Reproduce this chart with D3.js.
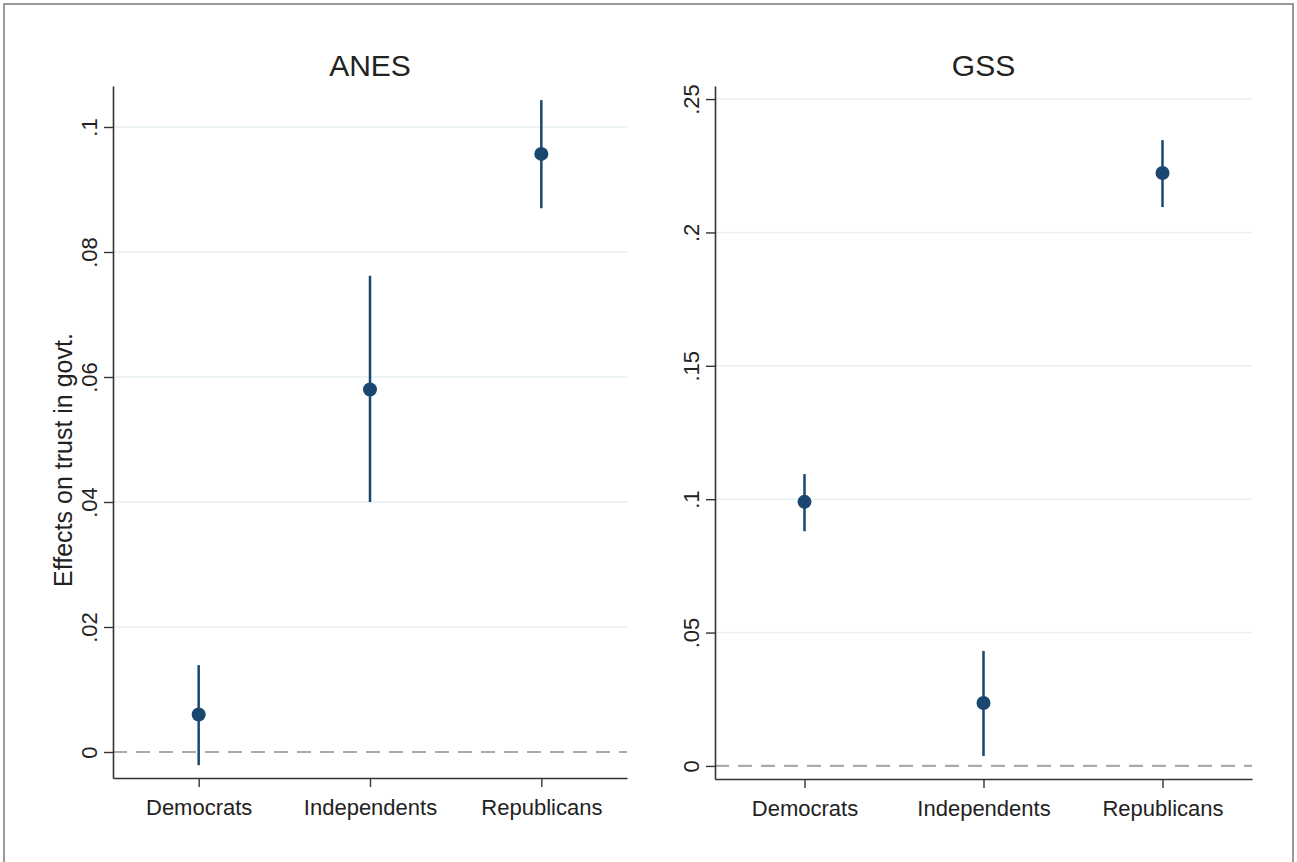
<!DOCTYPE html>
<html>
<head>
<meta charset="utf-8">
<script src="https://cdn.jsdelivr.net/npm/d3@7"></script>
<style>
  body { margin: 0; background: #fff; }
  text { font-family: "Liberation Sans", Arial, sans-serif; fill: #222; }
</style>
</head>
<body>
<div id="chart"></div>
<script>
// categories + estimates
var categories = ["Democrats", "Independents", "Republicans"];

var anesEst = [0.006, 0.058, 0.0957];
var anesLo  = [-0.0021, 0.040, 0.087];
var anesHi  = [0.0139, 0.0762, 0.1043];

var gssEst = [0.099, 0.0236, 0.2223];
var gssLo  = [0.088, 0.0037, 0.2095];
var gssHi  = [0.1094, 0.0431, 0.2346];

var anesTicks = [0, 0.02, 0.04, 0.06, 0.08, 0.1];
var anesTickLabels = ["0", ".02", ".04", ".06", ".08", ".1"];
var gssTicks = [0, 0.05, 0.1, 0.15, 0.2, 0.25];
var gssTickLabels = ["0", ".05", ".1", ".15", ".2", ".25"];

var svgWidth = 1297;
var svgHeight = 862;

var svg = d3.select("#chart")
  .append("svg")
  .attr("width", svgWidth)
  .attr("height", svgHeight);

// outer frame
svg.append("rect")
  .attr("x", 4).attr("y", 4)
  .attr("width", 1289).attr("height", 880)
  .attr("fill", "none")
  .attr("stroke", "#9a9a9a")
  .attr("stroke-width", 2);

var navy = "#1a476f";

function drawPanel(p) {
  var x = d3.scalePoint()
    .domain(categories)
    .range([p.left, p.right])
    .padding(0.5);

  var y = d3.scaleLinear()
    .domain(p.yDomain)
    .range([p.bottom, p.top]);

  var g = svg.append("g");

  // grid lines (not at zero)
  g.selectAll("line.grid")
    .data(p.ticks.filter(function (d) { return d !== 0; }))
    .enter()
    .append("line")
    .attr("class", "grid")
    .attr("x1", p.left).attr("x2", p.right)
    .attr("y1", function (d) { return y(d); })
    .attr("y2", function (d) { return y(d); })
    .attr("stroke", "#e6eff1")
    .attr("stroke-width", 1.5);

  // dashed zero line
  g.append("line")
    .attr("x1", p.left).attr("x2", p.right)
    .attr("y1", y(0)).attr("y2", y(0))
    .attr("stroke", "#aaaaaa")
    .attr("stroke-width", 2.2)
    .attr("stroke-dasharray", "14,9");

  // y axis
  var leftAxis = d3.axisLeft(y)
    .tickValues(p.ticks)
    .tickFormat(function (d, i) { return p.tickLabels[i]; })
    .tickSize(9)
    .tickSizeOuter(0);

  var ya = g.append("g")
    .attr("transform", "translate(" + p.left + ",0)")
    .call(leftAxis);
  ya.select(".domain").attr("stroke", "#333").attr("stroke-width", 1.6);
  ya.selectAll(".tick line").attr("stroke", "#333").attr("stroke-width", 1.4);
  ya.selectAll(".tick text")
    .attr("transform", "rotate(-90)")
    .attr("x", 0)
    .attr("y", -16)
    .attr("dy", 0)
    .attr("text-anchor", "middle")
    .style("font-size", "22px")
    .style("font-family", "Liberation Sans, Arial, sans-serif")
    .attr("fill", "#222");

  // x axis
  var bottomAxis = d3.axisBottom(x).tickSize(9).tickSizeOuter(0);
  var xa = g.append("g")
    .attr("transform", "translate(0," + p.bottom + ")")
    .call(bottomAxis);
  xa.select(".domain").attr("stroke", "#333").attr("stroke-width", 1.6);
  xa.selectAll(".tick line").attr("stroke", "#333").attr("stroke-width", 1.4);
  xa.selectAll(".tick text")
    .attr("y", 37)
    .attr("dy", 0)
    .style("font-size", "22px")
    .style("font-family", "Liberation Sans, Arial, sans-serif")
    .attr("fill", "#222");

  // confidence intervals
  g.selectAll("line.ci")
    .data(categories)
    .enter()
    .append("line")
    .attr("class", "ci")
    .attr("x1", function (d) { return x(d); })
    .attr("x2", function (d) { return x(d); })
    .attr("y1", function (d, i) { return y(p.lo[i]); })
    .attr("y2", function (d, i) { return y(p.hi[i]); })
    .attr("stroke", navy)
    .attr("stroke-width", 2.5);

  // point estimates
  g.selectAll("circle")
    .data(categories)
    .enter()
    .append("circle")
    .attr("cx", function (d) { return x(d); })
    .attr("cy", function (d, i) { return y(p.est[i]); })
    .attr("r", 7)
    .attr("fill", navy);

  // panel title
  g.append("text")
    .attr("x", (p.left + p.right) / 2)
    .attr("y", 76)
    .attr("text-anchor", "middle")
    .style("font-size", "30px")
    .attr("fill", "#1e2838")
    .text(p.title);
}

drawPanel({
  title: "ANES",
  left: 113, right: 627, top: 86, bottom: 778,
  yDomain: [-0.00416, 0.10656],
  ticks: anesTicks, tickLabels: anesTickLabels,
  est: anesEst, lo: anesLo, hi: anesHi
});

drawPanel({
  title: "GSS",
  left: 715, right: 1252, top: 86, bottom: 779,
  yDomain: [-0.0049, 0.2549],
  ticks: gssTicks, tickLabels: gssTickLabels,
  est: gssEst, lo: gssLo, hi: gssHi
});

// y axis title
svg.append("text")
  .attr("transform", "translate(72,460) rotate(-90)")
  .attr("text-anchor", "middle")
  .style("font-size", "25px")
  .text("Effects on trust in govt.");
</script>
</body>
</html>
